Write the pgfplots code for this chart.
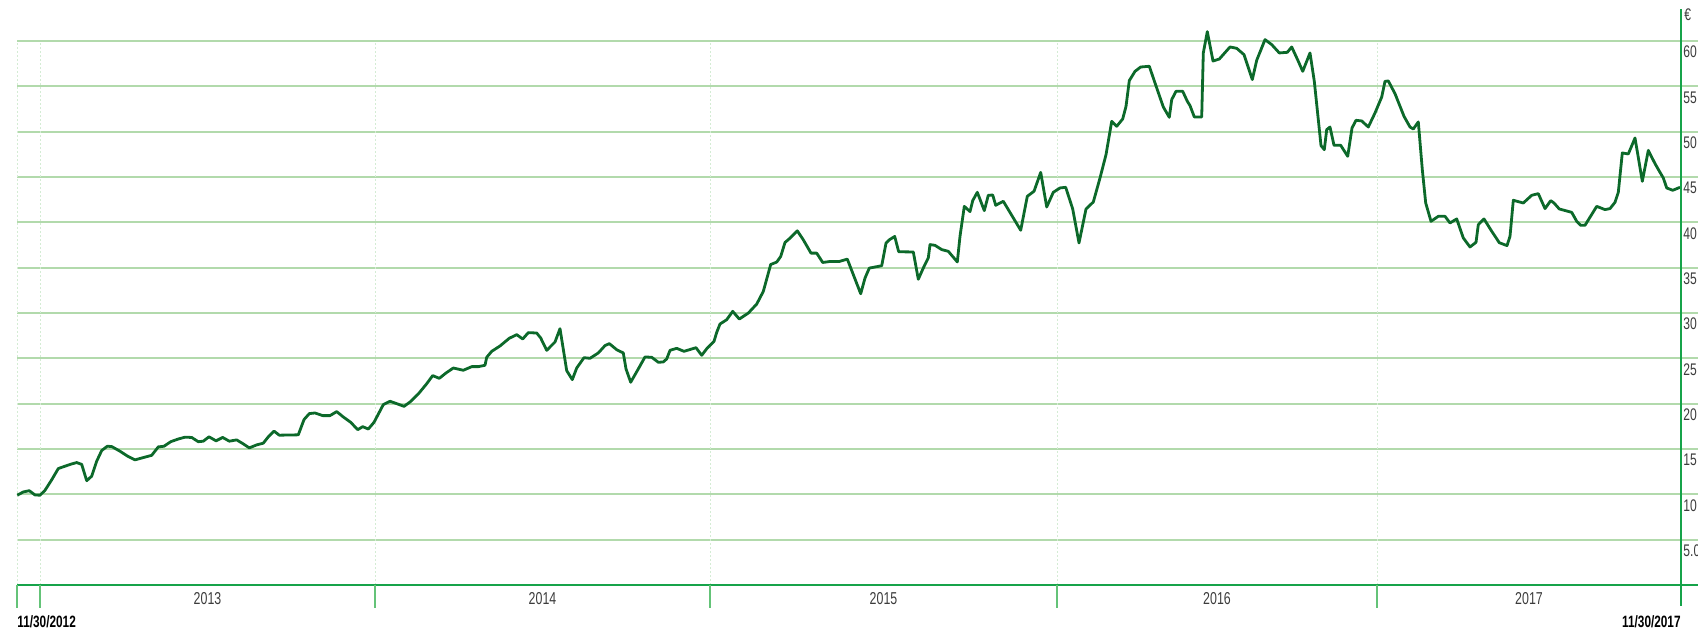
\documentclass[border=0pt]{standalone}
\usepackage{fontspec}
\setmainfont{Liberation Sans}[FakeStretch=0.72]
\usepackage{pgfplots}
\pgfplotsset{compat=1.18}
\definecolor{linegreen}{RGB}{12,105,42}
\definecolor{gridgreen}{RGB}{178,218,172}
\definecolor{axisgreen}{RGB}{22,163,74}
\definecolor{vgrid}{RGB}{212,236,212}
\definecolor{tickgreen}{RGB}{100,195,120}
\definecolor{labgray}{RGB}{60,60,60}
\pgfplotstableread{
x y
17.3 9.9
23.3 10.26
29.3 10.4
35 9.93
40 9.9
45 10.44
51.7 11.6
58.3 12.84
65 13.1
71.7 13.35
76.7 13.5
81.7 13.3
86.7 11.5
91.7 12.0
96.7 13.65
101.7 14.83
107.3 15.3
111.7 15.27
120 14.75
127.7 14.2
135 13.8
143.3 14.05
151.7 14.3
158.3 15.23
164 15.3
170.7 15.8
178.3 16.1
185 16.3
191.7 16.27
198.3 15.8
203.3 15.86
209 16.34
216 15.9
222.7 16.27
229.3 15.86
236.7 16.0
242.7 15.6
249.3 15.12
256.7 15.45
263.3 15.64
268.3 16.34
274 16.97
279.3 16.52
298.3 16.56
304 18.24
309.3 18.9
315 18.97
322.7 18.68
330 18.68
336.7 19.12
343.3 18.53
350.7 17.94
357.7 17.13
362.7 17.46
368.3 17.2
374 17.94
383.3 19.89
390 20.26
396.7 20.0
404 19.7
410 20.18
418.3 21.07
426 22.1
432.7 23.09
439.3 22.79
446 23.38
453.3 23.93
463.3 23.68
471.7 24.08
478.3 24.08
485 24.23
486.7 25.11
491.7 25.77
500 26.36
509.3 27.21
516.7 27.61
522.7 27.13
528.3 27.83
536.7 27.79
540.7 27.24
546.7 25.88
555 26.8
560 28.27
566.7 23.64
572.3 22.65
576.7 23.93
584 25.07
590 25.0
598.3 25.59
605 26.4
609.3 26.62
616.7 25.95
623.3 25.59
626 23.83
630.7 22.36
638.3 23.83
645 25.15
651.7 25.11
658.3 24.56
663.3 24.6
666.7 24.93
670 25.88
676.7 26.1
684 25.77
696 26.17
701.7 25.33
707.3 26.14
714 26.87
716.7 27.86
720 28.78
726.7 29.26
732.7 30.18
739.3 29.33
748.3 29.99
756.7 30.98
763.3 32.38
770.7 35.35
776.7 35.61
780.7 36.23
785 37.78
790 38.25
797.3 39.06
803.3 38.07
811 36.6
816.7 36.6
822.7 35.57
830 35.68
839.3 35.68
847.3 35.94
860.7 32.12
865 33.85
869.3 34.95
881.7 35.21
886 37.7
889.3 38.07
894.7 38.44
898.7 36.75
913.3 36.73
918.3 33.72
923.3 34.96
928.3 36.07
930 37.54
935 37.46
941.7 36.99
948.3 36.8
957.3 35.63
960 38.46
964.3 41.76
970 41.18
972.7 42.39
977.3 43.31
984.3 41.29
988.3 42.98
992.7 43.01
995.7 41.88
1003.3 42.32
1013.3 40.48
1020.7 39.12
1027.3 42.87
1034 43.42
1040.7 45.51
1046.7 41.69
1053.3 43.31
1060 43.79
1065.7 43.86
1072.7 41.47
1079 37.72
1086 41.47
1093.3 42.24
1100 44.89
1106 47.46
1111.7 51.14
1116.7 50.59
1122.7 51.4
1126 52.79
1129.3 55.63
1135 56.65
1140.7 57.13
1149.3 57.21
1156.7 54.82
1163.3 52.72
1169.3 51.58
1171.7 53.53
1176 54.45
1182.7 54.45
1187.3 53.35
1190 52.87
1194.3 51.62
1201.7 51.62
1203.3 58.68
1207.3 61.03
1213 57.79
1219.3 58.01
1230 59.34
1236.7 59.19
1244 58.49
1252.3 55.74
1256.7 57.87
1265 60.15
1271.7 59.6
1279.3 58.68
1287.3 58.75
1291.7 59.34
1298.3 57.76
1302.7 56.65
1310 58.68
1314.3 55.55
1321 48.46
1324.3 48.01
1326.7 50.22
1330 50.51
1334 48.49
1340.7 48.49
1347.7 47.28
1352 50.40
1356 51.25
1361.7 51.18
1368.3 50.51
1375 52.06
1381.7 53.82
1385 55.55
1388.3 55.59
1395 54.19
1404 51.69
1410 50.51
1413.3 50.29
1418.3 51.07
1422.3 45.81
1425.7 42.13
1431 40.11
1438.3 40.66
1445 40.66
1450 39.93
1456.7 40.37
1463.3 38.27
1470 37.28
1476 37.79
1478.3 39.74
1484 40.37
1491.7 39.01
1499.3 37.75
1507 37.43
1510 38.46
1513.3 42.43
1523.3 42.13
1531.7 42.98
1538.3 43.16
1545 41.51
1550.7 42.39
1554 42.13
1559.3 41.47
1571.7 41.10
1576.7 40.11
1580.7 39.67
1585 39.67
1596.7 41.76
1605 41.40
1610 41.51
1615 42.21
1618.3 43.31
1622.3 47.65
1628.3 47.54
1635 49.30
1642.3 44.52
1648.3 47.94
1655 46.47
1660 45.51
1663.3 44.89
1666.7 43.79
1672.7 43.53
1680 43.86
}\pricedata
\begin{document}
\begin{tikzpicture}
\begin{axis}[
  scale only axis, width=840.5pt, height=272pt,
  xmin=17, xmax=1698, ymin=0, ymax=60,
  clip=false,
  axis line style={draw=none},
  xtick=\empty,
  ytick={5,10,...,60},
  yticklabels={},
  major tick length=0pt,
  ymajorgrids,
  grid style={gridgreen, line width=1pt},
]
% vertical dotted grid
\foreach \xx in {17,40,375,710,1057,1377}{
  \edef\tmp{\noexpand\draw[vgrid, line width=0.5pt, dash pattern=on 1pt off 1pt] (axis cs:\xx,0) -- (axis cs:\xx,60);}\tmp
}
\addplot[linegreen, line width=1.4pt, line join=round] table[x=x,y=y] {\pricedata};
% bottom axis and ticks
\draw[axisgreen, line width=1.4pt] (axis cs:17,0) -- (axis cs:1698,0);
\foreach \xx in {17,40,375,710,1057,1377}{
  \edef\tmp{\noexpand\draw[tickgreen, line width=0.8pt] (axis cs:\xx,0) -- (axis cs:\xx,-2.54);}\tmp
}
% right axis
\draw[axisgreen, line width=1.25pt] (axis cs:1681,63.5) -- (axis cs:1681,-2.32);
% y labels
\foreach \v in {10,15,...,60}{
  \edef\tmp{\noexpand\node[anchor=base west, inner sep=0pt, text=labgray, font=\noexpand\fontsize{8.4}{9}\noexpand\selectfont] at (axis cs:1683,\v-1.87) {\v};}\tmp
}
\node[anchor=base west, inner sep=0pt, text=labgray, font=\fontsize{8.4}{9}\selectfont] at (axis cs:1683,5-1.87) {5.0};
\node[anchor=base west, inner sep=0pt, text=labgray, font=\fontsize{8.4}{9}\selectfont] at (axis cs:1684,62.3) {€};
% year labels
\foreach \xx/\yy in {207.5/2013,542.5/2014,883.5/2015,1217/2016,1529/2017}{
  \edef\tmp{\noexpand\node[anchor=base, inner sep=0pt, text=labgray, font=\noexpand\fontsize{8.6}{10}\noexpand\selectfont] at (axis cs:\xx,-2.2) {\yy};}\tmp
}
% date labels
\node[anchor=base west, inner sep=0pt, font=\bfseries\fontsize{8.2}{10}\selectfont] at (axis cs:17,-4.74) {11/30/2012};
\node[anchor=base east, inner sep=0pt, font=\bfseries\fontsize{8.2}{10}\selectfont] at (axis cs:1681,-4.74) {11/30/2017};
\coordinate (BL) at (axis cs:0,-5.07);
\coordinate (TR) at (axis cs:1698,64.52);
\end{axis}
\pgfresetboundingbox
\path[use as bounding box] (BL) rectangle (TR);
\end{tikzpicture}
\end{document}
